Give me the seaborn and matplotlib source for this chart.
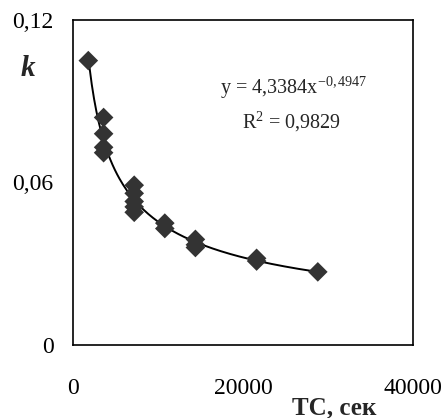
import numpy as np
import pandas as pd
import seaborn as sns
import matplotlib.pyplot as plt

# experimental points
tc = [1800, 3600, 3600, 3600, 3600,
      7200, 7200, 7200, 7200, 7200,
      10800, 10800,
      14400, 14400, 14400,
      21600, 21600,
      28800]
k = [0.105, 0.084, 0.078, 0.073, 0.071,
     0.059, 0.056, 0.053, 0.051, 0.049,
     0.045, 0.043,
     0.039, 0.037, 0.036,
     0.032, 0.031,
     0.027]

# power trendline shown on the chart
coef_a = 4.3384
coef_b = -0.4947
r2 = 0.9829

y_ticks = [0, 0.06, 0.12]
y_labels = ["0", "0,06", "0,12"]
x_ticks = [0, 20000, 40000]
x_labels = ["0", "20000", "40000"]

df = pd.DataFrame({"tc": tc, "k": k})
x_fit = np.linspace(min(tc), max(tc), 200)
fit = pd.DataFrame({"tc": x_fit, "k": coef_a * x_fit ** coef_b})

sns.set_style("white")
plt.rcParams["font.family"] = ["Liberation Serif", "DejaVu Serif"]
plt.rcParams["mathtext.fontset"] = "custom"
plt.rcParams["mathtext.rm"] = "Liberation Serif"
plt.rcParams["mathtext.it"] = "Liberation Serif:italic"

fig = plt.figure(figsize=(4.46, 4.18), dpi=100)
ax = fig.add_axes([0.1637, 0.1746, 0.7623, 0.7776])

sns.lineplot(data=fit, x="tc", y="k", color="black", lw=1.4, ax=ax)
sns.scatterplot(data=df, x="tc", y="k", marker="D", s=100, color="#333333",
                edgecolor="none", ax=ax, zorder=3)

ax.set_xlim(0, 40000)
ax.set_ylim(0, 0.12)
ax.set_xticks(x_ticks)
ax.set_xticklabels(x_labels)
ax.set_yticks(y_ticks)
ax.set_yticklabels(y_labels)
ax.tick_params(direction="out", length=7, width=1.2, colors="black",
               labelsize=17)
ax.tick_params(axis="x", pad=16.5)
ax.tick_params(axis="y", pad=7)
ax.set_xlabel("")
ax.set_ylabel("")
for s in ax.spines.values():
    s.set_color("black")
    s.set_linewidth(1.2)

eq = f"y = {coef_a}x$^{{\\mathrm{{{coef_b}}}}}$".replace(".", ",")
fig.text(294 / 446, 1 - 94 / 418, eq, fontsize=14.5, ha="center", va="baseline")
fig.text(291 / 446, 1 - 128 / 418, f"R$^{{\\mathrm{{2}}}}$ = {r2}".replace(".", ","),
         fontsize=14.5, ha="center", va="baseline")

fig.text(28 / 446, 1 - 68 / 418, "k", fontsize=21, fontweight="bold",
         fontstyle="italic", ha="center", va="center")
fig.text(334 / 446, 1 - 408 / 418, "TC, сек", fontsize=18, fontweight="bold",
         ha="center", va="center")

fig.savefig("out.png", dpi=100)
